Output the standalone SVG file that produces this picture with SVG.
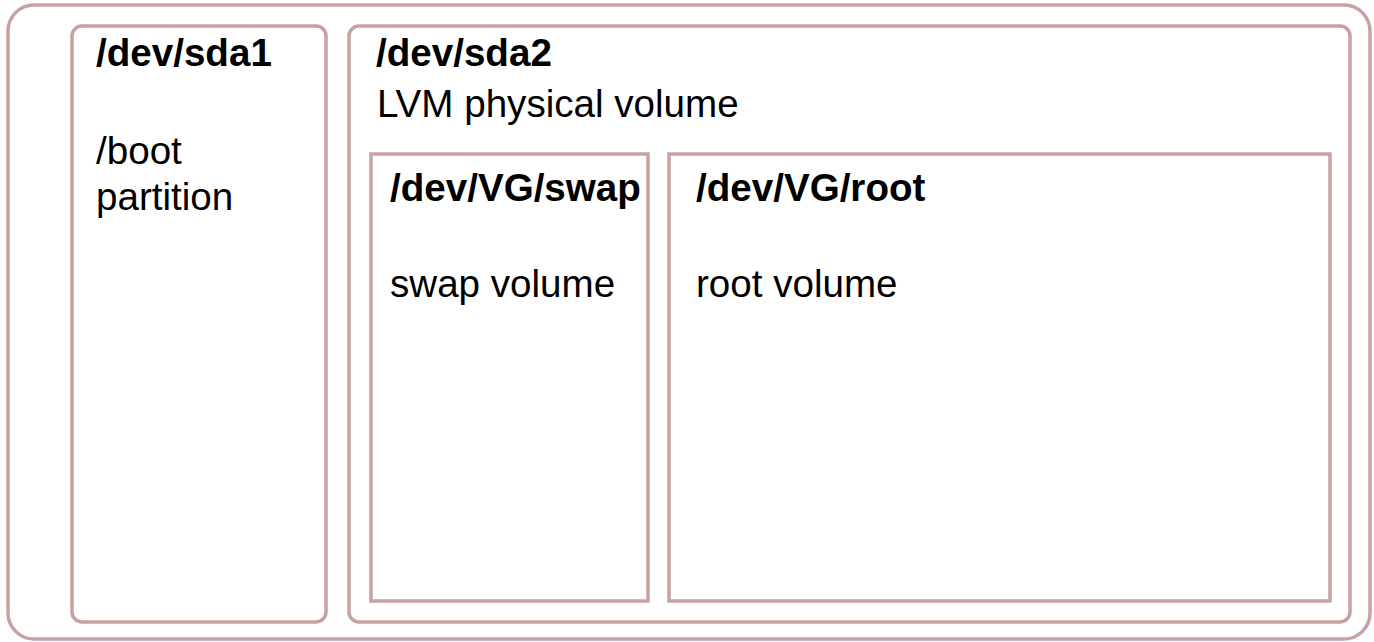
<svg xmlns="http://www.w3.org/2000/svg" width="1374" height="642" viewBox="0 0 1374 642">
<style>
.box{fill:none;stroke:#c6a2a2;stroke-width:3.5}
.t{font-family:"Liberation Sans",Arial,sans-serif;font-size:38.6px;fill:#000}
.b{font-weight:bold}
</style>
<rect width="1374" height="642" fill="#fff"/>
<g id="disk"><rect class="box" x="8" y="5" width="1362" height="634" rx="26" ry="26"/></g>
<g id="sda1">
<rect class="box" x="72" y="26" width="254" height="596" rx="10" ry="10"/>
<text class="t b" x="96" y="66">/dev/sda1</text>
<text class="t" x="96" y="164">/boot</text>
<text class="t" x="96" y="210">partition</text>
</g>
<g id="sda2">
<rect class="box" x="349" y="26" width="1001" height="596" rx="10" ry="10"/>
<text class="t b" x="376" y="66">/dev/sda2</text>
<text class="t" x="377" y="117">LVM physical volume</text>
</g>
<g id="swap">
<rect class="box" x="371" y="154" width="277" height="447"/>
<text class="t b" x="390" y="201">/dev/VG/swap</text>
<text class="t" x="390" y="297">swap volume</text>
</g>
<g id="root">
<rect class="box" x="669" y="154" width="661" height="447"/>
<text class="t b" x="696" y="201">/dev/VG/root</text>
<text class="t" x="696" y="297">root volume</text>
</g>
<g id="connectors"/>
</svg>
